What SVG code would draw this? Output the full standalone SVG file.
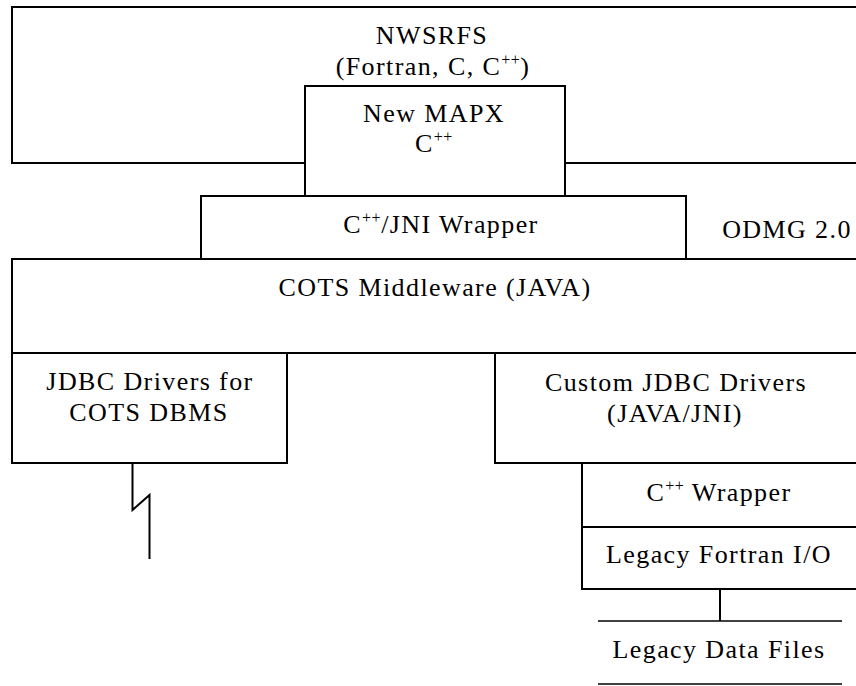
<svg xmlns="http://www.w3.org/2000/svg" width="856" height="686" viewBox="0 0 856 686">
  <style>
    .box { fill: #ffffff; stroke: #000000; stroke-width: 2; }
    .thin { fill: none; stroke: #000000; stroke-width: 1.5; }
    .link { fill: none; stroke: #000000; stroke-width: 2; stroke-linejoin: miter; }
    text { font-family: "Liberation Serif", "Times New Roman", serif; font-size: 26px; letter-spacing: 1.4px; fill: #000000; text-anchor: middle; }
    .sup { font-size: 16px; letter-spacing: 0.5px; }
  </style>

  <rect width="856" height="686" fill="#ffffff"/>

  <!-- top layer: forecast system, open to the right -->
  <g id="nwsrfs">
    <rect class="box" x="12" y="7" width="860" height="156"/>
    <text x="432" y="44">NWSRFS</text>
    <text x="433" y="75">(Fortran, C, C<tspan class="sup" dy="-10">++</tspan><tspan dy="10">)</tspan></text>
  </g>

  <g id="new-mapx">
    <rect class="box" x="305" y="86" width="260" height="110"/>
    <text x="434" y="122">New MAPX</text>
    <text x="434" y="152">C<tspan class="sup" dy="-10">++</tspan></text>
  </g>

  <g id="jni-wrapper">
    <rect class="box" x="201" y="196" width="485" height="63"/>
    <text x="441" y="233">C<tspan class="sup" dy="-10">++</tspan><tspan dy="10">/JNI Wrapper</tspan></text>
  </g>

  <g id="odmg">
    <line class="thin" x1="702" y1="259" x2="856" y2="259"/>
    <text x="787" y="238">ODMG 2.0</text>
  </g>

  <g id="cots-middleware">
    <path class="box" d="M872 259 H12 V353 H872"/>
    <line x1="686" y1="259" x2="702" y2="259" stroke="#000" stroke-width="2"/>
    <text x="435" y="296">COTS Middleware (JAVA)</text>
  </g>

  <g id="jdbc-cots">
    <rect class="box" x="12" y="353" width="275" height="110"/>
    <text x="150" y="390">JDBC Drivers for</text>
    <text x="149" y="421">COTS DBMS</text>
  </g>

  <g id="custom-jdbc">
    <rect class="box" x="495" y="353" width="377" height="110"/>
    <text x="676" y="391">Custom JDBC Drivers</text>
    <text x="675" y="422">(JAVA/JNI)</text>
  </g>

  <g id="cpp-wrapper">
    <rect class="box" x="582" y="463" width="290" height="64"/>
    <text x="719" y="501">C<tspan class="sup" dy="-10">++</tspan><tspan dy="10"> Wrapper</tspan></text>
  </g>

  <g id="legacy-fortran-io">
    <rect class="box" x="582" y="527" width="290" height="62"/>
    <text x="719" y="563">Legacy Fortran I/O</text>
  </g>

  <!-- data store drawn as two parallel rules -->
  <g id="legacy-data-files">
    <line class="thin" x1="598" y1="621" x2="842" y2="621"/>
    <line class="thin" x1="598" y1="684" x2="842" y2="684"/>
    <text x="719" y="658">Legacy Data Files</text>
  </g>

  <g id="connectors">
    <!-- network link from the COTS drivers -->
    <path class="link" d="M132.5 463 V510 L149.5 495 V559"/>
    <!-- Fortran I/O to data files -->
    <line class="link" x1="720" y1="589" x2="720" y2="621"/>
  </g>
</svg>
